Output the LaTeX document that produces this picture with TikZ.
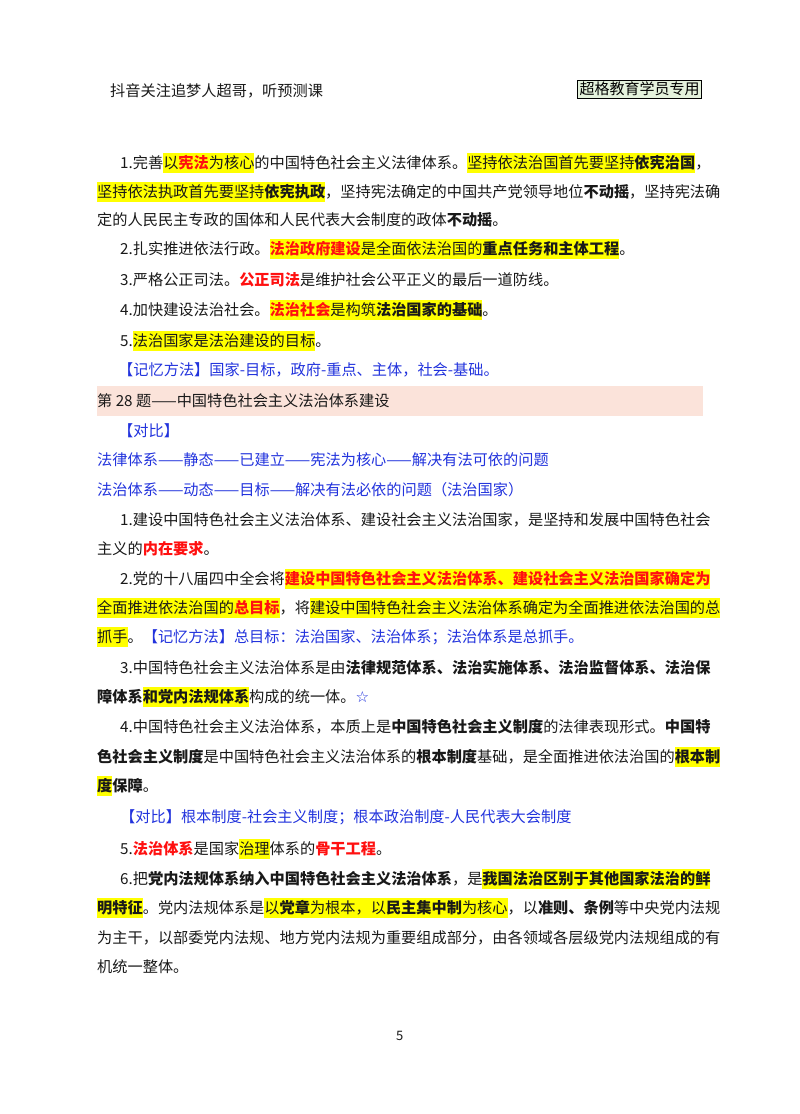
\documentclass[tikz,border=0pt]{standalone}
\usepackage{fontspec}
\setmainfont{Noto Sans CJK SC}
\newfontfamily\symf{DejaVu Sans}
\definecolor{hly}{HTML}{FFFF00}
\definecolor{blu}{HTML}{2233DD}
\definecolor{rd}{HTML}{FF1010}
\definecolor{band}{HTML}{FBE3DA}
\definecolor{boxg}{HTML}{E4F2DC}
\newcommand{\HL}[1]{{\setlength\fboxsep{0pt}\colorbox{hly}{\rule[-4.5pt]{0pt}{19.5pt}#1}}}
\newcommand{\RD}[1]{{\bfseries\color{rd}#1}}
\newcommand{\BD}[1]{{\bfseries #1}}
\newcommand{\BL}[1]{{\color{blu}#1}}
\tikzset{ln/.style={anchor=base west,inner sep=0pt,font=\fontsize{15.2}{18}\selectfont,text=black!90}}
\begin{document}
\begin{tikzpicture}[x=1pt,y=-1pt]
\useasboundingbox (0,0) rectangle (800,1114);
\fill[white] (0,0) rectangle (800,1114);
\node[ln] (hd) at (110,96) {抖音关注追梦人超哥，听预测课};
\node[draw=black,fill=boxg,line width=0.8pt,inner sep=2pt,font=\fontsize{15}{18}\selectfont,anchor=east] (tag) at (702,89) {超格教育学员专用};
\node[ln] (a1) at (120,168) {1.完善\HL{以\RD{宪法}为核心}的中国特色社会主义法律体系。\HL{坚持依法治国首先要坚持\BD{依宪治国}}，};
\node[ln] (a2) at (97,197) {\HL{坚持依法执政首先要坚持\BD{依宪执政}}，坚持宪法确定的中国共产党领导地位\BD{不动摇}，坚持宪法确};
\node[ln] (a3) at (97,225) {定的人民民主专政的国体和人民代表大会制度的政体\BD{不动摇}。};
\node[ln] (a4) at (120,254) {2.扎实推进依法行政。\HL{\RD{法治政府建设}是全面依法治国的\BD{重点任务和主体工程}}。};
\node[ln] (a5) at (120,285) {3.严格公正司法。\RD{公正司法}是维护社会公平正义的最后一道防线。};
\node[ln] (a6) at (120,315) {4.加快建设法治社会。\HL{\RD{法治社会}是构筑\BD{法治国家的基础}}。};
\node[ln] (a7) at (120,346) {5.\HL{法治国家是法治建设的目标}。};
\node[ln] (a8) at (118,375) {\BL{【记忆方法】国家-目标，政府-重点、主体，社会-基础。}};
\fill[band] (97,386) rectangle (703,416);
\node[ln] (t28) at (97,406) {第 28 题——中国特色社会主义法治体系建设};
\node[ln] (b0) at (118,436) {\BL{【对比】}};
\node[ln] (b1) at (97,465) {\BL{法律体系——静态——已建立——宪法为核心——解决有法可依的问题}};
\node[ln] (b2) at (97,495) {\BL{法治体系——动态——目标——解决有法必依的问题（法治国家）}};
\node[ln] (c1) at (120,525) {1.建设中国特色社会主义法治体系、建设社会主义法治国家，是坚持和发展中国特色社会};
\node[ln] (c2) at (97,554) {主义的\RD{内在要求}。};
\node[ln] (c3) at (120,584) {2.党的十八届四中全会将\HL{\RD{建设中国特色社会主义法治体系、建设社会主义法治国家确定为}}};
\node[ln] (c4) at (97,613) {\HL{全面推进依法治国的\RD{总目标}}，将\HL{建设中国特色社会主义法治体系确定为全面推进依法治国的总}};
\node[ln] (c5) at (97,642) {\HL{抓手}。\BL{【记忆方法】总目标：法治国家、法治体系；法治体系是总抓手。}};
\node[ln] (c6) at (120,673) {3.中国特色社会主义法治体系是由\BD{法律规范体系、法治实施体系、法治监督体系、法治保}};
\node[ln] (c7) at (97,702) {\BD{障体系}\HL{\BD{和党内法规体系}}构成的统一体。\BL{\symf ☆}};
\node[ln] (c8) at (120,732) {4.中国特色社会主义法治体系，本质上是\BD{中国特色社会主义制度}的法律表现形式。\BD{中国特}};
\node[ln] (c9) at (97,762) {\BD{色社会主义制度}是中国特色社会主义法治体系的\BD{根本制度}基础，是全面推进依法治国的\HL{\BD{根本制}}};
\node[ln] (c10) at (97,791) {\HL{\BD{度}}\BD{保障}。};
\node[ln] (c11) at (120,822) {\BL{【对比】根本制度-社会主义制度；根本政治制度-人民代表大会制度}};
\node[ln] (c12) at (120,854) {5.\RD{法治体系}是国家\HL{治理}体系的\RD{骨干工程}。};
\node[ln] (c13) at (120,884) {6.把\BD{党内法规体系纳入中国特色社会主义法治体系}，是\HL{\BD{我国法治区别于其他国家法治的鲜}}};
\node[ln] (c14) at (97,913) {\HL{\BD{明特征}}。党内法规体系是\HL{以\BD{党章}为根本，以\BD{民主集中制}为核心}，以\BD{准则、条例}等中央党内法规};
\node[ln] (c15) at (97,943) {为主干，以部委党内法规、地方党内法规为重要组成部分，由各领域各层级党内法规组成的有};
\node[ln] (c16) at (97,972) {机统一整体。};
\node[ln,font=\fontsize{13}{15}\selectfont] (pg) at (396,1040) {5};
\end{tikzpicture}
\end{document}
